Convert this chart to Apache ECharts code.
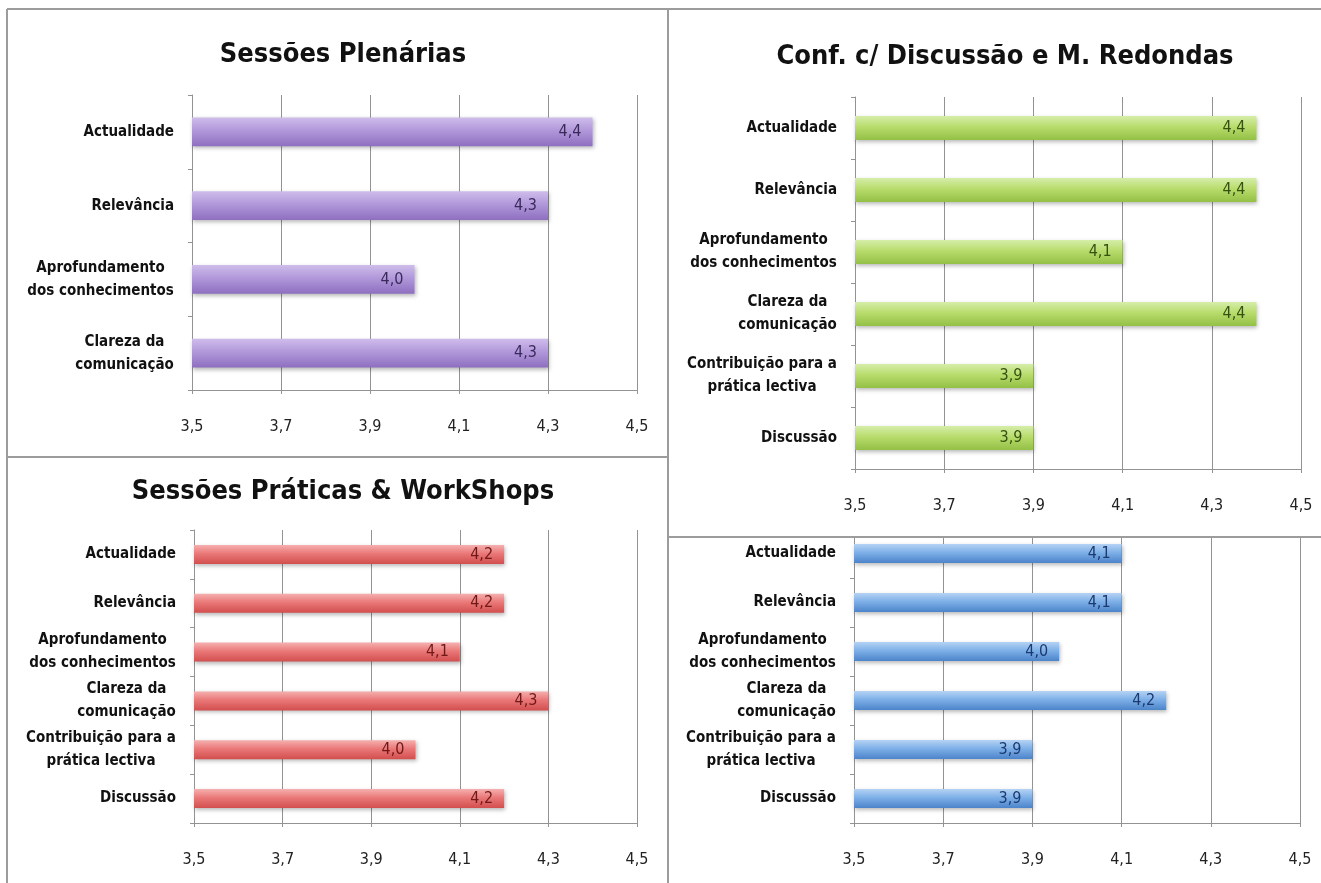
<!DOCTYPE html>
<html>
<head>
<meta charset="utf-8">
<script src="https://cdn.jsdelivr.net/npm/echarts@6/dist/echarts.min.js"></script>
<style>
  html, body { margin: 0; padding: 0; background: #ffffff; }
  #chart { width: 1321px; height: 883px; }
</style>
</head>
<body>
<div id="chart"></div>
<script>
// Category labels (top to bottom)
const catsFour = ['Actualidade', 'Relevância', 'Aprofundamento\ndos conhecimentos', 'Clareza da\ncomunicação'];
const catsSix = ['Actualidade', 'Relevância', 'Aprofundamento\ndos conhecimentos', 'Clareza da\ncomunicação',
                 'Contribuição para a\nprática lectiva', 'Discussão'];

// Panel titles
const titlePlenarias = 'Sessões Plenárias';
const titleMesas = 'Conf. c/ Discussão e M. Redondas';
const titlePraticas = 'Sessões Práticas & WorkShops';

// Mean scores per panel
const plenariasVals = [4.4, 4.3, 4.0, 4.3];
const mesasVals = [4.4, 4.4, 4.1, 4.4, 3.9, 3.9];
const praticasVals = [4.2, 4.2, 4.1, 4.3, 4.0, 4.2];
const quartoVals = [4.1, 4.1, 3.96, 4.2, 3.9, 3.9];

// Value scale shared by all panels
const scaleMin = 3.5;
const scaleMax = 4.5;
const scaleStep = 0.2;

const FONT = '"Liberation Sans Narrow", "DejaVu Sans Condensed", "Liberation Sans", sans-serif';
const GRID_GREY = '#939393';
const CAT_SIZE = 15;

const fmt = v => Number(v).toFixed(1).replace('.', ',');

// Width measurement for centring multi-line category labels
const measureCtx = document.createElement('canvas').getContext('2d');
function textWidth(t) {
  measureCtx.font = 'bold ' + CAT_SIZE + 'px ' + FONT;
  return Math.ceil(measureCtx.measureText(t).width);
}
const labelRich = {};
const labelKey = {};
catsSix.forEach((c, i) => {
  const lines = c.split('\n');
  if (lines.length > 1) {
    const w = Math.max(...lines.map(textWidth));
    const key = 'm' + i;
    labelKey[c] = key;
    labelRich[key] = {
      width: w, align: 'center', fontFamily: FONT, fontWeight: 'bold',
      fontSize: CAT_SIZE, color: '#111111', lineHeight: 23
    };
  }
});
function catFormatter(v) {
  const key = labelKey[v];
  if (!key) return v;
  return v.split('\n').map(l => '{' + key + '|' + l + '}').join('\n');
}

const chart = echarts.init(document.getElementById('chart'), null, { renderer: 'canvas' });

// Grid rectangles in pixels
const W = 1321, H = 883;
const grids = [
  { left: 192, right: W - 637, top: 95, bottom: H - 390 },
  { left: 855, right: W - 1301, top: 97, bottom: H - 469 },
  { left: 194, right: W - 637, top: 530, bottom: H - 823 },
  { left: 854, right: W - 1300, top: 529, bottom: H - 823 }
];

function xAxis(i) {
  return {
    type: 'value', gridIndex: i, min: scaleMin, max: scaleMax, interval: scaleStep,
    startValue: scaleMin,
    axisLine: { show: true, lineStyle: { color: GRID_GREY, width: 1 } },
    axisTick: { show: true, length: 4, lineStyle: { color: GRID_GREY } },
    splitLine: { show: true, lineStyle: { color: GRID_GREY, width: 1 } },
    axisLabel: { formatter: fmt, fontFamily: FONT, fontSize: 16, color: '#222222', margin: 29 }
  };
}
function yAxis(i, cats) {
  return {
    type: 'category', gridIndex: i, data: cats, inverse: true,
    axisLine: { show: true, lineStyle: { color: GRID_GREY, width: 1 } },
    axisTick: { show: true, length: 4, lineStyle: { color: GRID_GREY } },
    splitLine: { show: false },
    axisLabel: {
      formatter: catFormatter, rich: labelRich, margin: 18,
      fontFamily: FONT, fontWeight: 'bold', fontSize: CAT_SIZE, color: '#111111', lineHeight: 23
    }
  };
}
function barSeries(i, vals, stops, labelColor) {
  return {
    type: 'bar', xAxisIndex: i, yAxisIndex: i, data: vals,
    barCategoryGap: '61%', clip: true,
    itemStyle: {
      color: new echarts.graphic.LinearGradient(0, 0, 0, 1, [
        { offset: 0, color: stops[0] },
        { offset: 0.45, color: stops[1] },
        { offset: 1, color: stops[2] }
      ]),
      shadowBlur: 4, shadowOffsetX: 1, shadowOffsetY: 2, shadowColor: 'rgba(0,0,0,0.28)'
    },
    label: {
      show: true, position: 'insideRight', distance: 11,
      formatter: p => fmt(p.value),
      fontFamily: FONT, fontSize: 16, color: labelColor
    }
  };
}

const BORDER = '#9c9c9c';
function line(x1, y1, x2, y2) {
  return { type: 'line', z: 200, shape: { x1, y1, x2, y2 }, style: { stroke: BORDER, lineWidth: 2 } };
}

const titleStyle = { fontFamily: FONT, fontWeight: 'bold', fontSize: 27, color: '#111111' };

chart.setOption({
  animation: false,
  backgroundColor: '#ffffff',
  title: [
    { text: titlePlenarias, left: 338, top: 50, textAlign: 'center', textVerticalAlign: 'middle', textStyle: titleStyle },
    { text: titleMesas, left: 1000, top: 52, textAlign: 'center', textVerticalAlign: 'middle', textStyle: titleStyle },
    { text: titlePraticas, left: 338, top: 487, textAlign: 'center', textVerticalAlign: 'middle', textStyle: titleStyle }
  ],
  grid: grids.map(g => Object.assign({ containLabel: false }, g)),
  xAxis: [0, 1, 2, 3].map(xAxis),
  yAxis: [yAxis(0, catsFour), yAxis(1, catsSix), yAxis(2, catsSix), yAxis(3, catsSix)],
  series: [
    barSeries(0, plenariasVals, ['#cfbdeb', '#b198da', '#8e6fc0'], '#3a2a5c'),
    barSeries(1, mesasVals, ['#d6eeaa', '#b8dc6c', '#93c046'], '#35520f'),
    barSeries(2, praticasVals, ['#f5b0b0', '#ea7878', '#d24e4e'], '#701818'),
    barSeries(3, quartoVals, ['#b6d3f4', '#7eb0e8', '#4c84ca'], '#1b3a70')
  ],
  graphic: [
    // strip of the upper-right panel that overlaps the lower-right chart
    { type: 'rect', z: 150, shape: { x: 669, y: 520, width: 652, height: 17 }, style: { fill: '#ffffff' } },
    line(7, 9, 1321, 9),
    line(7, 9, 7, 883),
    line(668, 9, 668, 883),
    line(7, 457, 668, 457),
    line(668, 537, 1321, 537)
  ]
});
</script>
</body>
</html>
